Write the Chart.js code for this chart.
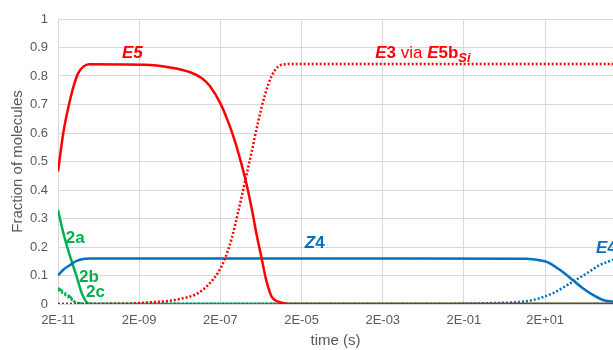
<!DOCTYPE html>
<html>
<head>
<meta charset="utf-8">
<script src="https://cdn.jsdelivr.net/npm/chart.js@4.4.1/dist/chart.umd.min.js"></script>
<style>
  html, body { margin: 0; padding: 0; background: #fff; }
  #wrap { width: 613px; height: 350px; }
</style>
</head>
<body>
<div id="wrap"><canvas id="chart" width="613" height="350"></canvas></div>
<script>
// tick positions on the time axis (s)
var timeTicks = [2e-11, 2e-9, 2e-7, 2e-5, 2e-3, 2e-1, 2e1];
var timeMin = 2e-11;
var timeMax = 9.4e2;

// E5 (red, solid)
var e5Time = [2e-11, 2.7e-11, 3.6e-11, 4.8e-11, 6.3e-11, 8.4e-11, 1.2e-10, 3.7e-9, 1.15e-8, 3.6e-8, 7e-8, 1.1e-7, 2e-7, 3.1e-7, 4.6e-7, 6.7e-7, 8.9e-7, 1.18e-6, 1.57e-6, 2.08e-6, 2.76e-6, 3.67e-6, 5.3e-6, 7.8e-6, 1.2e-5, 9.4e2];
var e5Frac = [0.465, 0.60, 0.69, 0.762, 0.81, 0.833, 0.841, 0.839, 0.83, 0.813, 0.792, 0.765, 0.704, 0.64, 0.57, 0.488, 0.418, 0.336, 0.242, 0.16, 0.078, 0.026, 0.008, 0.002, 0, 0];

// E3 via E5b_Si (red, dotted)
var e3Time = [2e-11, 1e-9, 3.7e-9, 9.5e-9, 2.4e-8, 5.5e-8, 1e-7, 1.8e-7, 2.6e-7, 3.8e-7, 5.5e-7, 8.1e-7, 1.18e-6, 1.71e-6, 2.5e-6, 3.67e-6, 5.3e-6, 7.8e-6, 1.2e-5, 9.4e2];
var e3Frac = [0, 0.001, 0.006, 0.01, 0.02, 0.037, 0.067, 0.113, 0.16, 0.23, 0.324, 0.43, 0.534, 0.64, 0.733, 0.80, 0.833, 0.841, 0.842, 0.842];

// Z4 (blue, solid)
var z4Time = [2e-11, 2.7e-11, 4e-11, 5.5e-11, 8.3e-11, 1.2e-10, 1e-3, 7, 10, 22, 46, 96, 170, 300, 530, 9.4e2];
var z4Frac = [0.10, 0.12, 0.137, 0.15, 0.158, 0.16, 0.16, 0.159, 0.157, 0.148, 0.12, 0.084, 0.055, 0.032, 0.014, 0.008];

// E4 (blue, dotted)
var e4Time = [2e-11, 1e-2, 0.87, 10, 31, 96, 214, 445, 890, 9.4e2];
var e4Frac = [0, 0, 0.003, 0.014, 0.038, 0.078, 0.108, 0.137, 0.154, 0.156];

// 2a, 2b, 2c (green)
var a2Time = [2e-11, 2.7e-11, 4e-11, 5.8e-11, 7.7e-11, 1e-10, 1.3e-10, 9.4e2];
var a2Frac = [0.33, 0.25, 0.165, 0.095, 0.038, 0.007, 0, 0];
var b2Time = [2e-11, 3e-11, 4e-11, 5.2e-11, 7e-11, 1e-10, 9.4e2];
var b2Frac = [0.056, 0.038, 0.025, 0.008, 0.002, 0, 0];
var c2Time = [2e-11, 3e-11, 4e-11, 5.2e-11, 7e-11, 1e-10, 9.4e2];
var c2Frac = [0.05, 0.032, 0.02, 0.006, 0.001, 0, 0];

var RED = "#ff0000", BLUE = "#0070c0", GREEN = "#00b050";
var GRID = "#d9d9d9", TEXT = "#595959";

function pts(t, v) {
  return t.map(function (x, i) { return { x: x, y: v[i] }; });
}

function fmtTime(v) {
  var e = Math.round(Math.log10(v / 2));
  var s = e < 0 ? "-" : "+";
  var a = Math.abs(e);
  return "2E" + s + (a < 10 ? "0" + a : a);
}

// curve labels: [time, fraction, colour, segments]
var curveLabels = [
  [7.5e-10, 0.88, RED, [["E", "italic bold 17px"], ["5", "italic bold 17px"]]],
  [1.3e-3, 0.88, RED, [["E", "italic bold 17px"], ["3", "bold 17px"], [" via ", "17px"], ["E", "italic bold 17px"], ["5b", "bold 17px"], ["Si", "italic bold 13px", 5]]],
  [2.4e-5, 0.214, BLUE, [["Z", "italic bold 17px"], ["4", "bold 17px"]]],
  [358, 0.196, BLUE, [["E", "italic bold 17px"], ["4", "bold 17px"]]],
  [3.1e-11, 0.232, GREEN, [["2a", "bold 17px"]]],
  [6.6e-11, 0.095, GREEN, [["2b", "bold 17px"]]],
  [9.8e-11, 0.042, GREEN, [["2c", "bold 17px"]]]
];

var labelPlugin = {
  id: "curveLabels",
  afterDatasetsDraw: function (chart) {
    var ctx = chart.ctx;
    var xs = chart.scales.x, ys = chart.scales.y;
    ctx.save();
    ctx.textBaseline = "middle";
    ctx.textAlign = "left";
    curveLabels.forEach(function (l) {
      var px = xs.getPixelForValue(l[0]);
      var py = ys.getPixelForValue(l[1]);
      ctx.fillStyle = l[2];
      l[3].forEach(function (seg) {
        ctx.font = seg[1] + " 'Liberation Sans', Arial, sans-serif";
        ctx.fillText(seg[0], px, py + (seg[2] || 0));
        px += ctx.measureText(seg[0]).width;
      });
    });
    ctx.restore();
  }
};

var line = function (label, data, color, dash) {
  return {
    label: label,
    data: data,
    borderColor: color,
    backgroundColor: color,
    borderWidth: 2.5,
    borderDash: dash || [],
    pointRadius: 0,
    cubicInterpolationMode: "monotone",
    fill: false
  };
};

new Chart(document.getElementById("chart"), {
  type: "line",
  data: {
    datasets: [
      line("E5", pts(e5Time, e5Frac), RED),
      line("E3 via E5b", pts(e3Time, e3Frac), RED, [2, 2]),
      line("Z4", pts(z4Time, z4Frac), BLUE),
      line("E4", pts(e4Time, e4Frac), BLUE, [2, 2]),
      line("2a", pts(a2Time, a2Frac), GREEN),
      line("2b", pts(b2Time, b2Frac), GREEN, [6, 2, 2, 2]),
      line("2c", pts(c2Time, c2Frac), GREEN, [2, 2])
    ]
  },
  options: {
    responsive: false,
    animation: false,
    layout: { padding: { top: 19, right: 0, left: 0, bottom: 0 } },
    plugins: { legend: { display: false }, tooltip: { enabled: false } },
    scales: {
      x: {
        type: "logarithmic",
        min: timeMin,
        max: timeMax,
        afterBuildTicks: function (axis) {
          axis.ticks = timeTicks.map(function (v) { return { value: v }; });
        },
        afterFit: function (axis) { axis.height = 46; },
        grid: { color: GRID, drawTicks: false },
        border: { color: GRID },
        ticks: {
          autoSkip: false,
          maxRotation: 0,
          padding: 9,
          color: TEXT,
          font: { family: "'Liberation Sans Narrow', 'Liberation Sans', sans-serif", size: 13 },
          callback: function (v) { return fmtTime(v); }
        },
        title: {
          display: true,
          text: "time (s)",
          color: TEXT,
          padding: { top: 0, bottom: 0 },
          font: { family: "'Liberation Sans', Arial, sans-serif", size: 15 }
        }
      },
      y: {
        min: 0,
        max: 1,
        afterFit: function (axis) { axis.width = 58; },
        grid: { color: GRID, drawTicks: false },
        border: { color: GRID },
        ticks: {
          stepSize: 0.1,
          padding: 10,
          color: TEXT,
          font: { family: "'Liberation Sans Narrow', 'Liberation Sans', sans-serif", size: 13 },
          callback: function (v) { return String(Math.round(v * 10) / 10); }
        },
        title: {
          display: true,
          text: "Fraction of molecules",
          color: TEXT,
          padding: { top: 9, bottom: 0 },
          font: { family: "'Liberation Sans', Arial, sans-serif", size: 15 }
        }
      }
    }
  },
  plugins: [labelPlugin]
});
</script>
</body>
</html>
